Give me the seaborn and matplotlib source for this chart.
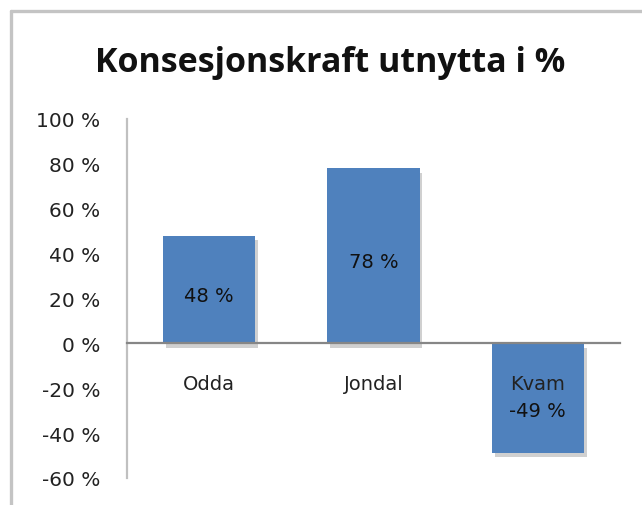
import matplotlib
matplotlib.use('Agg')
import matplotlib.pyplot as plt
import matplotlib.patheffects as pe
from matplotlib.lines import Line2D
import seaborn as sns
import pandas as pd

# data
kommunar = ['Odda', 'Jondal', 'Kvam']
utnytta = [48, 78, -49]
y_ticks = [-60, -40, -20, 0, 20, 40, 60, 80, 100]

bar_color = '#4F81BD'
axis_gray = '#868686'

sns.set_style('white')
plt.rcParams['font.family'] = ['DejaVu Sans']

df = pd.DataFrame({'kommune': kommunar, 'pct': utnytta})

fig = plt.figure(figsize=(6.42, 5.06), dpi=100)
ax = fig.add_axes([127 / 642, 1 - 479 / 506, (620 - 127) / 642, (479 - 120) / 506])

sns.barplot(data=df, x='kommune', y='pct', color=bar_color, width=0.56,
            saturation=1, ax=ax, zorder=2)

# soft drop shadow like the excel bars
for p in ax.patches:
    p.set_path_effects([pe.SimplePatchShadow(offset=(2, -3), shadow_rgbFace='#666666', alpha=0.3),
                        pe.Normal()])
    p.set_edgecolor('none')

# tick labels must sit on top of the bars (Kvam label is inside its bar)
ax.set_axisbelow(False)

ax.set_ylim(-60, 100)
ax.set_xlim(-0.5, 2.5)
ax.set_yticks(y_ticks)
ax.set_yticklabels([f'{t} %' for t in y_ticks], fontsize=14.5, color='#222222')
ax.tick_params(axis='y', length=0, pad=19)

# category axis sits on the zero line
ax.spines['bottom'].set_position(('data', 0))
ax.spines['bottom'].set_color(axis_gray)
ax.spines['bottom'].set_linewidth(1.6)
ax.spines['left'].set_color('#c0c0c0')
ax.spines['left'].set_linewidth(1.6)
ax.spines['top'].set_visible(False)
ax.spines['right'].set_visible(False)
ax.tick_params(axis='x', length=0, pad=22, labelsize=14, labelcolor='#222222')
ax.set_xlabel('')
ax.set_ylabel('')

for i, v in enumerate(utnytta):
    off = -4 if v > 0 else -9
    ax.annotate(f'{v} %', (i, v / 2), xytext=(0, off), textcoords='offset points',
                ha='center', va='center', fontsize=14, color='#111111', zorder=5)

fig.text(330 / 642, 1 - 63 / 506, 'Konsesjonskraft utnytta i %', ha='center', va='center',
         fontsize=24.5, fontweight='bold', color='#111111', family=['Open Sans', 'DejaVu Sans'])

# chart frame (left and top edges visible)
fig.add_artist(Line2D([11 / 642, 11 / 642], [0, 1 - 12 / 506], color='#c4c4c4', lw=2.4,
                      transform=fig.transFigure))
fig.add_artist(Line2D([11 / 642, 1], [1 - 12 / 506, 1 - 12 / 506], color='#c4c4c4', lw=2.4,
                      transform=fig.transFigure))

fig.savefig('out.png', dpi=100)
